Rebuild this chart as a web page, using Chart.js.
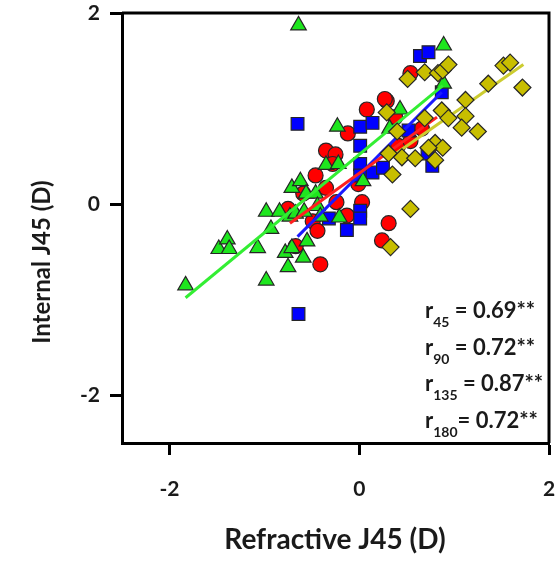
<!DOCTYPE html>
<html>
<head>
<meta charset="utf-8">
<script src="https://cdn.jsdelivr.net/npm/chart.js@4"></script>
<style>
html,body{margin:0;padding:0;background:#fff;}
canvas{display:block;}
</style>
</head>
<body>
<canvas id="c" width="560" height="564"></canvas>
<script>
// ---- data ----
const xTicks = [-2, 0, 2];
const yTicks = [-2, 0, 2];
const xTitle = 'Refractive J45 (D)';
const yTitle = 'Internal J45 (D)';

// r45 : red circles
const redX = [-0.35,-0.25,-0.46,-0.35,-0.59,-0.75,-0.49,-0.44,-0.67,-0.41,-0.12,-0.28,-0.01,-0.24,0.03,-0.13,0.31,0.24,0.29,0.27,0.08,0.54,0.41,0.54,0.38,0.66];
const redY = [0.56,0.52,0.30,0.17,0.11,-0.05,-0.18,-0.28,-0.44,-0.63,0.74,0.42,0.21,0.02,0.02,-0.12,-0.20,-0.38,1.08,1.10,0.99,1.37,0.61,0.66,0.91,0.79];

// r90 : blue squares
const blueX = [-0.65,-0.64,-0.32,0.64,0.73,0.87,0.01,0.14,0.52,0.01,0.01,0.01,0.14,0.25,0.01,0.01,-0.13,0.72,0.77];
const blueY = [0.84,-1.15,-0.15,1.55,1.59,1.17,0.81,0.85,0.77,0.61,0.42,0.30,0.33,0.38,-0.07,-0.15,-0.27,0.53,0.40];

// r135 : green triangles
const greenX = [-0.64,-0.23,-0.35,-0.22,-0.71,-0.62,-0.56,-0.46,-0.98,-0.84,-0.73,-0.67,-0.58,-0.44,-0.41,-0.21,-0.93,-1.48,-1.39,-1.37,-1.07,-0.78,-0.71,-0.55,-0.59,-0.75,-0.98,-1.83,0.89,0.89,0.43,0.32,0.04];
const greenY = [1.87,0.81,0.41,0.42,0.17,0.24,0.11,0.11,-0.08,-0.08,-0.13,-0.10,-0.08,-0.02,-0.13,-0.14,-0.26,-0.47,-0.37,-0.47,-0.46,-0.51,-0.46,-0.39,-0.56,-0.66,-0.80,-0.85,1.66,1.26,0.99,0.79,0.24];

// r180 : olive diamonds
const oliveX = [0.51,0.69,0.83,0.88,0.94,1.52,1.59,1.72,1.36,1.12,0.87,0.94,1.12,1.08,1.25,0.29,0.69,0.40,0.31,0.45,0.59,0.80,0.88,0.73,0.80,0.35,0.54,0.33];
const oliveY = [1.31,1.38,1.37,1.40,1.46,1.45,1.48,1.22,1.26,1.09,0.98,0.90,0.92,0.80,0.76,0.96,0.90,0.76,0.53,0.49,0.48,0.64,0.59,0.59,0.46,0.31,-0.05,-0.45];

// fitted lines (end points)
const greenLineX = [-1.83, 0.88], greenLineY = [-0.98, 1.24];
const blueLineX  = [-0.65, 0.87], blueLineY  = [-0.34, 1.17];
const redLineX   = [-0.73, 0.82], redLineY   = [-0.20, 0.91];
const oliveLineX = [0.30, 1.73],  oliveLineY = [0.47, 1.46];

// correlation labels
const rSubs = ['45', '90', '135', '180'];
const rVals = [' = 0.69**', ' = 0.72**', ' = 0.87**', '= 0.72**'];

// ---- build ----
const pts = (xs, ys) => xs.map((x, i) => ({x: x, y: ys[i]}));
const FONT = 'Lato, "Open Sans", sans-serif';

function markerSet(label, xs, ys, style, radius, fill, order) {
  return {type: 'scatter', label, data: pts(xs, ys), pointStyle: style, pointRadius: radius,
    pointHoverRadius: radius, backgroundColor: fill, borderColor: '#262626', borderWidth: 1.2, order};
}
function lineSet(label, xs, ys, color, order) {
  return {type: 'line', label, data: pts(xs, ys), showLine: true, pointRadius: 0,
    borderColor: color, borderWidth: 3, fill: false, order};
}

const frame = {
  id: 'frame',
  afterDraw(chart) {
    const {ctx, chartArea: a} = chart;
    ctx.save();
    ctx.strokeStyle = '#000';
    ctx.lineWidth = 3;
    ctx.beginPath();
    ctx.moveTo(a.left, a.top); ctx.lineTo(a.right, a.top); ctx.lineTo(a.right, a.bottom);
    ctx.stroke();
    // axis titles
    ctx.fillStyle = '#1a1a1a';
    ctx.textAlign = 'center';
    ctx.textBaseline = 'middle';
    ctx.font = 'bold 28px ' + FONT;
    ctx.fillText(xTitle, 335, 540);
    ctx.save();
    ctx.translate(42, 262);
    ctx.rotate(-Math.PI / 2);
    ctx.font = 'bold 24px ' + FONT;
    ctx.fillText(yTitle, 0, 0);
    ctx.restore();
    // r labels
    ctx.textAlign = 'left';
    ctx.textBaseline = 'alphabetic';
    const x0 = a.right - 124;
    for (let i = 0; i < rSubs.length; i++) {
      const base = a.bottom - 125 + i * 36.7;
      let x = x0;
      ctx.font = 'bold 22px ' + FONT;
      ctx.fillText('r', x, base); x += ctx.measureText('r').width;
      ctx.font = 'bold 14px ' + FONT;
      ctx.fillText(rSubs[i], x, base + 9); x += ctx.measureText(rSubs[i]).width;
      ctx.font = 'bold 22px ' + FONT;
      ctx.fillText(rVals[i], x, base);
    }
    ctx.restore();
  }
};

const noPad = s => { s.paddingTop = 0; s.paddingBottom = 0; s.paddingLeft = 0; s.paddingRight = 0; };

const axisCommon = {
  type: 'linear',
  min: -2.5, max: 2,
  grid: {display: true, drawOnChartArea: false, drawTicks: true, tickLength: 12, tickWidth: 3, tickColor: '#000'},
  border: {display: true, color: '#000', width: 3},
  ticks: {color: '#1a1a1a', font: {family: FONT, size: 21, weight: 'bold'}, padding: 10}
};

new Chart(document.getElementById('c'), {
  type: 'scatter',
  data: {datasets: [
    markerSet('r45', redX, redY, 'circle', 7.5, '#ff0000', 9),
    markerSet('r90', blueX, blueY, 'rect', 9, '#0000ff', 8),
    markerSet('r135', greenX, greenY, 'triangle', 9, '#1ee61e', 7),
    lineSet('green fit', greenLineX, greenLineY, '#33ee33', 5),
    lineSet('blue fit', blueLineX, blueLineY, '#1a1aff', 4),
    lineSet('red fit', redLineX, redLineY, '#ff2020', 3),
    lineSet('olive fit', oliveLineX, oliveLineY, '#cccc30', 2),
    markerSet('r180', oliveX, oliveY, 'rectRot', 8.5, '#c8be00', 1)
  ]},
  options: {
    responsive: false,
    devicePixelRatio: 1,
    animation: false,
    layout: {padding: {top: 13, right: 11, left: 0, bottom: 0}},
    plugins: {legend: {display: false}, tooltip: {enabled: false}},
    scales: {
      x: Object.assign({}, axisCommon, {
        ticks: Object.assign({}, axisCommon.ticks, {padding: 22}),
        afterBuildTicks: s => { s.ticks = xTicks.map(v => ({value: v})); },
        afterFit: s => { s.height = 121; noPad(s); }
      }),
      y: Object.assign({}, axisCommon, {
        afterBuildTicks: s => { s.ticks = yTicks.map(v => ({value: v})); },
        afterFit: s => { s.width = 122; noPad(s); }
      })
    }
  },
  plugins: [frame]
});
</script>
</body>
</html>
